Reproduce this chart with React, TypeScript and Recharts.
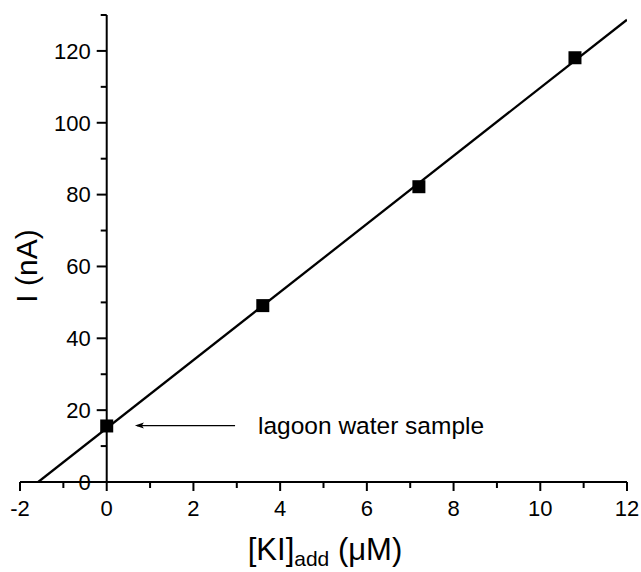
import React from "react";
import {
  ComposedChart,
  Scatter,
  XAxis,
  YAxis,
  ReferenceLine,
  ReferenceDot,
} from "recharts";

// ---- data ----
const kiAdded = [0, 3.6, 7.2, 10.8];
const current = [15.6, 49.1, 82.2, 118.1];

const fitX = [-1.58, 12];
const fitY = [0, 128.7];

const xTicks = [-2, -1, 0, 1, 2, 3, 4, 5, 6, 7, 8, 9, 10, 11, 12];
const yMajorTicks = [0, 20, 40, 60, 80, 100, 120];
const yMinorTicks = [10, 30, 50, 70, 90, 110, 130];

const annotationText = "lagoon water sample";
const arrowTail = { x: 2.96, y: 15.7 };
const arrowTip = { x: 0.65, y: 15.7 };
const annotationAt = { x: 3.49, y: 15.7 };

const points = kiAdded.map((x, i) => ({ x, y: current[i] }));
const fitLine = fitX.map((x, i) => ({ x, y: fitY[i] }));

const FONT = '"Liberation Sans", Arial, Helvetica, sans-serif';
const TICK_SIZE = 8;
const TICK_MARGIN = 4;

const XTick = (props: any) => {
  const { x, y, payload } = props;
  const axisY = y - TICK_SIZE - TICK_MARGIN;
  const v = payload.value;
  const major = Math.abs(v % 2) === 0;
  return (
    <g>
      <line x1={x} x2={x} y1={axisY} y2={axisY + (major ? 9 : 6)} stroke="#000" strokeWidth={2} />
      {major && (
        <text x={x} y={axisY + 34} textAnchor="middle" fontSize={22} fontFamily={FONT} fill="#000">
          {v}
        </text>
      )}
    </g>
  );
};

const YTick = (props: any) => {
  const { cx, cy, major, value } = props;
  return (
    <g>
      <line x1={cx - (major ? 10 : 6)} x2={cx} y1={cy} y2={cy} stroke="#000" strokeWidth={2} />
      {major && (
        <text x={cx - 16} y={cy + 7.8} textAnchor="end" fontSize={22} fontFamily={FONT} fill="#000">
          {value}
        </text>
      )}
    </g>
  );
};

const Square = (props: any) => {
  const { cx, cy } = props;
  if (cx == null || cy == null) return <g />;
  return <rect x={cx - 6.5} y={cy - 6.5} width={13} height={13} fill="#000" />;
};

const Arrow = (props: any) => {
  const { x1, y1, x2, y2 } = props;
  const tipX = Math.min(x1, x2);
  const tailX = Math.max(x1, x2);
  const yy = y1;
  return (
    <g>
      <line x1={tipX + 2} x2={tailX} y1={yy} y2={y2} stroke="#000" strokeWidth={1.2} />
      <path d={`M${tipX},${yy} L${tipX + 9},${yy - 3} L${tipX + 7},${yy} L${tipX + 9},${yy + 3} Z`} fill="#000" />
    </g>
  );
};

const YLabel = (props: any) => {
  const vb = props.viewBox || {};
  const bx = vb.x + vb.width + 16.7;
  const by = vb.y + vb.height / 2 + 17.5;
  return (
    <text
      transform={`translate(${bx},${by}) rotate(-90)`}
      textAnchor="middle"
      fontSize={30}
      fontFamily={FONT}
      fill="#000"
    >
      I (nA)
    </text>
  );
};

const XLabel = (props: any) => {
  const vb = props.viewBox || {};
  const cx = vb.x + vb.width / 2 + 1.5;
  const by = vb.y + 78;
  return (
    <text x={cx} y={by} textAnchor="middle" fontFamily={FONT} fill="#000">
      <tspan fontSize={31}>[KI]</tspan>
      <tspan fontSize={21} dy={6}>add</tspan>
      <tspan fontSize={31} dy={-6}>{" (μM)"}</tspan>
    </text>
  );
};

export default function App() {
  return (
    <div style={{ position: "absolute", left: 0, top: 0, width: 641, height: 572 }}>
      <ComposedChart
        width={641}
        height={572}
        margin={{ top: 15, right: 14, bottom: 30, left: 8 }}
        style={{ fontFamily: FONT }}
      >
        <XAxis
          dataKey="x"
          type="number"
          domain={[-2, 12]}
          ticks={xTicks}
          interval={0}
          allowDataOverflow
          tick={<XTick />}
          tickLine={false}
          tickSize={TICK_SIZE}
          tickMargin={TICK_MARGIN}
          axisLine={{ stroke: "#000", strokeWidth: 2 }}
          height={60}
          label={<XLabel />}
        />
        <YAxis
          dataKey="y"
          type="number"
          domain={[0, 130]}
          allowDataOverflow
          width={12}
          tick={false}
          tickLine={false}
          axisLine={false}
          label={<YLabel />}
        />
        <ReferenceLine x={0} stroke="#000" strokeWidth={2} ifOverflow="visible" />
        {yMinorTicks.map((v) => (
          <ReferenceDot
            key={`mn${v}`}
            x={0}
            y={v}
            r={1}
            ifOverflow="visible"
            shape={(p: any) => <YTick {...p} major={false} value={v} />}
          />
        ))}
        {yMajorTicks.map((v) => (
          <ReferenceDot
            key={`mj${v}`}
            x={0}
            y={v}
            r={1}
            ifOverflow="visible"
            shape={(p: any) => <YTick {...p} major={true} value={v} />}
          />
        ))}
        <Scatter
          data={fitLine}
          line={{ stroke: "#000", strokeWidth: 2.3 }}
          lineType="joint"
          shape={() => <g />}
          isAnimationActive={false}
        />
        <Scatter data={points} shape={<Square />} isAnimationActive={false} />
        <ReferenceLine
          segment={[arrowTip, arrowTail]}
          ifOverflow="visible"
          stroke="#000"
          shape={(p: any) => <Arrow {...p} />}
        />
        <ReferenceDot
          x={annotationAt.x}
          y={annotationAt.y}
          r={1}
          ifOverflow="visible"
          shape={(p: any) => (
            <text x={p.cx} y={p.cy + 8} fontSize={24.5} fontFamily={FONT} fill="#000">
              {annotationText}
            </text>
          )}
        />
      </ComposedChart>
    </div>
  );
}
